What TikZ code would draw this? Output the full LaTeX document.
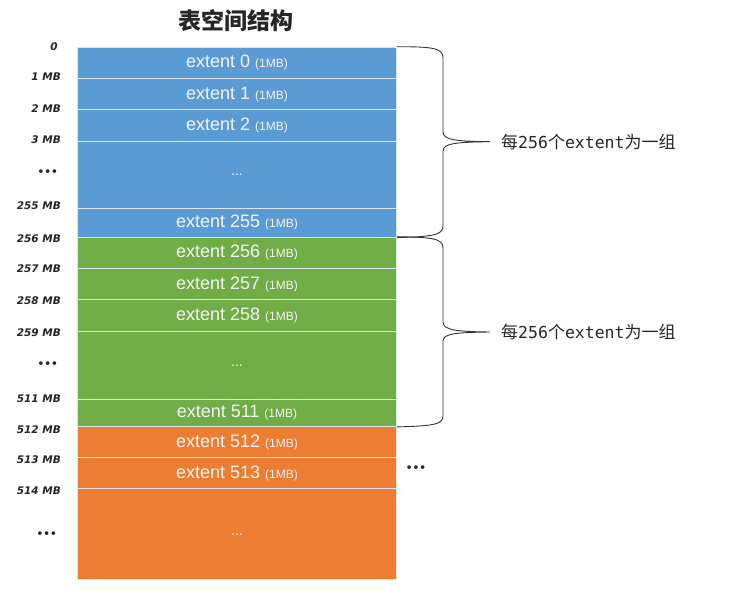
\documentclass[tikz,border=0pt]{standalone}
\usepackage{fontspec}
\setmainfont{Liberation Sans}
\newfontfamily\cjk{Noto Sans CJK SC}
\newfontfamily\lblfont{DejaVu Sans}
\newfontfamily\monofont{DejaVu Sans Mono}
\usetikzlibrary{calc}
\definecolor{cblue}{HTML}{5B9BD5}
\definecolor{cgreen}{HTML}{70AD47}
\definecolor{corange}{HTML}{ED7D31}
\definecolor{cline}{HTML}{DDE6EE}
\definecolor{ctext}{HTML}{F4F4F4}
\newcommand{\ext}[1]{{\fontsize{18}{18}\selectfont extent #1}\hspace{5pt}{\fontsize{12}{12}\selectfont (1MB)}}
\newcommand{\grptext}{每{\monofont\fontsize{16.5}{16}\selectfont 256}个{\monofont\fontsize{16.5}{16}\selectfont extent}为一组}
\tikzset{
  cell/.style={draw=cline, line width=0.9pt, minimum width=319pt, inner sep=0pt,
    anchor=north west, text=ctext},
  gap/.style={font=\fontsize{14}{14}\selectfont, text=ctext},
  mb/.style={anchor=east, inner sep=0pt, font=\lblfont\bfseries\itshape\fontsize{10.5}{11}\selectfont, text=black!85},
  dots/.style={anchor=east, inner sep=0pt, font=\lblfont\bfseries\fontsize{10.5}{11}\selectfont, text=black!85},
  brace/.style={draw=black!80, line width=0.9pt},
  grp/.style={anchor=west, inner sep=0pt, font=\cjk\fontsize{17}{17}\selectfont, text=black!85}
}
\begin{document}
\begin{tikzpicture}[x=1pt,y=-1pt]
\useasboundingbox (0,0) rectangle (753,602);
% title
\node[font=\cjk\bfseries\fontsize{23}{23}\selectfont, text=black!85] (title) at (236,21) {表空间结构};
% blue group
\node[cell, fill=cblue, minimum height=31.6pt] (r0) at (77,46.7) {\ext{0}};
\node[cell, fill=cblue, minimum height=31pt] (r1) at (77,78.3) {\ext{1}};
\node[cell, fill=cblue, minimum height=31.4pt] (r2) at (77,109.3) {\ext{2}};
\node[cell, fill=cblue, minimum height=67pt] (rd1) at (77,140.7) {};
\node[gap] (g1) at (rd1.center) {...};
\node[cell, fill=cblue, minimum height=29pt] (r255) at (77,207.7) {\ext{255}};
% green group
\node[cell, fill=cgreen, minimum height=31.6pt] (r256) at (77,236.7) {\ext{256}};
\node[cell, fill=cgreen, minimum height=31pt] (r257) at (77,268.3) {\ext{257}};
\node[cell, fill=cgreen, minimum height=31.4pt] (r258) at (77,299.3) {\ext{258}};
\node[cell, fill=cgreen, minimum height=68.3pt] (rd2) at (77,330.7) {};
\node[gap] (g2) at (rd2.center) {...};
\node[cell, fill=cgreen, minimum height=27pt] (r511) at (77,399) {\ext{511}};
% orange group
\node[cell, fill=corange, minimum height=31.3pt] (r512) at (77,426) {\ext{512}};
\node[cell, fill=corange, minimum height=31pt] (r513) at (77,457.3) {\ext{513}};
\node[cell, fill=corange, minimum height=91pt] (rd3) at (77,488.3) {};
\node[gap] (g3) at (rd3.center) {...};
% left labels
\node[mb] (l0) at (58,46.7) {0};
\node[mb] (l1) at (61,76.7) {1 MB};
\node[mb] (l2) at (61,108.3) {2 MB};
\node[mb] (l3) at (61,140) {3 MB};
\node[dots] (ld1) at (58,172.7) {•••};
\node[mb] (l255) at (61,206) {255 MB};
\node[mb] (l256) at (61,238.3) {256 MB};
\node[mb] (l257) at (61,268.3) {257 MB};
\node[mb] (l258) at (61,300.7) {258 MB};
\node[mb] (l259) at (61,333) {259 MB};
\node[dots] (ld2) at (58,365) {•••};
\node[mb] (l511) at (61,399) {511 MB};
\node[mb] (l512) at (61,430) {512 MB};
\node[mb] (l513) at (61,460) {513 MB};
\node[mb] (l514) at (61,490.7) {514 MB};
\node[dots] (ld3) at (57,534.3) {•••};
% group labels
\node[grp] (t1) at (501,141.7) {\grptext};
\node[grp] (t2) at (501,332) {\grptext};
\node[dots, anchor=center] (more) at (416,468.5) {•••};
% braces
\coordinate (tip1) at ($(t1.west)+(-11,0)$);
\coordinate (tip2) at ($(t2.west)+(-11,0)$);
\draw[brace] (r0.north east) .. controls (433,46.7) and (443,48) .. (443,58)
  -- (443,132) .. controls (443,140) and (456,141.3) .. (tip1)
  .. controls (456,142.1) and (443,143.4) .. (443,151)
  -- (443,226) .. controls (443,235) and (433,236.7) .. (r255.south east);
\draw[brace] (r256.north east) .. controls (433,237.3) and (443,238.6) .. (443,248)
  -- (443,322) .. controls (443,330) and (456,331.6) .. (tip2)
  .. controls (456,332.4) and (443,333.6) .. (443,341)
  -- (443,416) .. controls (443,424.5) and (433,426) .. (r511.south east);
\end{tikzpicture}
\end{document}
